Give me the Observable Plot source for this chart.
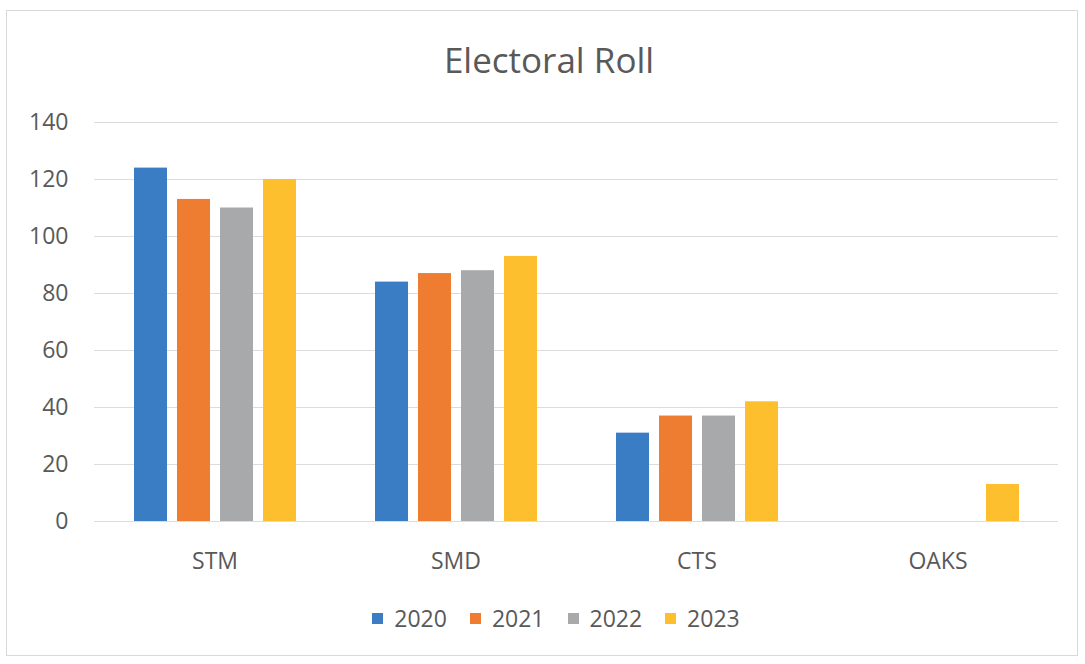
<!DOCTYPE html>
<html>
<head>
<meta charset="utf-8">
<script src="https://cdn.jsdelivr.net/npm/d3@7"></script>
<script src="https://cdn.jsdelivr.net/npm/@observablehq/plot@0.6"></script>
<style>
  html, body { margin: 0; padding: 0; background: #fff; }
  body { width: 1085px; height: 664px; position: relative; overflow: hidden; font-family: "Open Sans", sans-serif; }
  #frame { position: absolute; left: 6px; top: 10px; width: 1072px; height: 646px; border: 1px solid #d9d9d9; box-sizing: border-box; }
  #title { position: absolute; left: 0; width: 1098px; top: 36px; text-align: center; font-size: 35px; color: #595959; }
  #chart { position: absolute; left: 0; top: 100px; }
  #legend { position: absolute; left: 0; width: 1112px; top: 602px; display: flex; justify-content: center; gap: 23px; font-size: 23px; color: #595959; }
  #legend .item { display: flex; align-items: center; gap: 11px; }
  #legend .sw { width: 11px; height: 11px; display: inline-block; }
</style>
</head>
<body>
<div id="frame"></div>
<div id="title">Electoral Roll</div>
<div id="chart"></div>
<div id="legend"></div>
<script>
const categories = ["STM", "SMD", "CTS", "OAKS"];
const years = ["2020", "2021", "2022", "2023"];
const colors = ["#3b7dc4", "#ee7d32", "#a7a9ab", "#fdbf2d"];
const v2020 = [124, 84, 31, null];
const v2021 = [113, 87, 37, null];
const v2022 = [110, 88, 37, null];
const v2023 = [120, 93, 42, 13];
const yTicks = [0, 20, 40, 60, 80, 100, 120, 140];

const series = [v2020, v2021, v2022, v2023];
const data = [];
categories.forEach((c, i) => {
  years.forEach((y, j) => {
    const v = series[j][i];
    if (v != null) data.push({category: c, year: y, value: v});
  });
});

const chart = Plot.plot({
  width: 1085,
  height: 481,
  marginLeft: 93,
  marginRight: 27,
  marginTop: 22,
  marginBottom: 60,
  style: {fontFamily: "Open Sans, sans-serif", fontSize: "23px", color: "#595959", background: "transparent"},
  fx: {domain: categories, padding: 0, axis: "bottom", tickSize: 0, tickPadding: 31, label: null},
  x: {domain: years, paddingInner: 0.24, paddingOuter: 0.89, axis: null},
  y: {domain: [0, 140], ticks: yTicks, tickSize: 0, tickPadding: 26, label: null, tickFormat: d3.format("d")},
  color: {domain: years, range: colors},
  marks: [
    Plot.gridY(yTicks, {stroke: "#dcdcdc", strokeOpacity: 1}),
    Plot.barY(data, {fx: "category", x: "year", y: "value", fill: "year"})
  ]
});
chart.querySelectorAll("text").forEach(t => t.setAttribute("fill", "#595959"));
document.getElementById("chart").appendChild(chart);

const legend = document.getElementById("legend");
years.forEach((y, i) => {
  const item = document.createElement("div");
  item.className = "item";
  const sw = document.createElement("span");
  sw.className = "sw";
  sw.style.background = colors[i];
  const label = document.createElement("span");
  label.textContent = y;
  item.appendChild(sw);
  item.appendChild(label);
  legend.appendChild(item);
});
</script>
</body>
</html>
